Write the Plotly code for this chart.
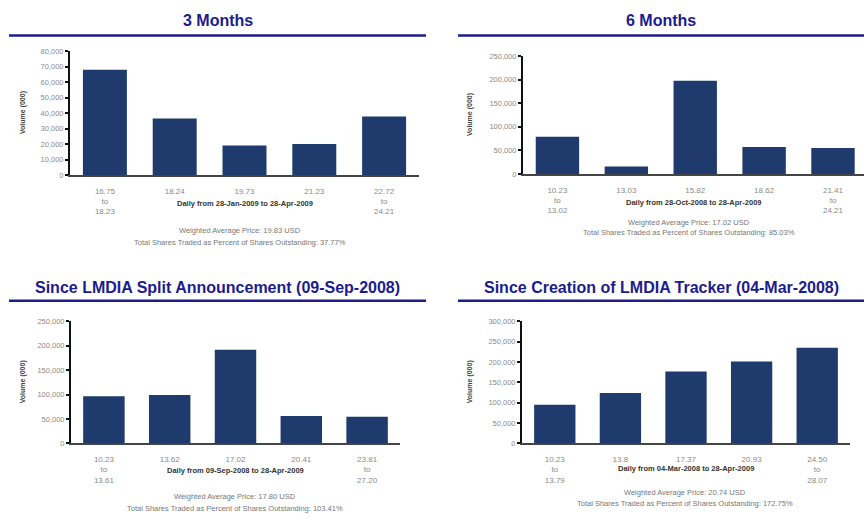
import plotly.graph_objects as go

# ---------------- data ----------------
titles = ["3 Months", "6 Months",
          "Since LMDIA Split Announcement (09-Sep-2008)",
          "Since Creation of LMDIA Tracker (04-Mar-2008)"]

labels_3m = ["16.75<br>to<br>18.23", "18.24", "19.73", "21.23", "22.72<br>to<br>24.21"]
values_3m = [68000, 36500, 19000, 20000, 37800]

labels_6m = ["10.23<br>to<br>13.02", "13.03", "15.82", "18.62", "21.41<br>to<br>24.21"]
values_6m = [79000, 16000, 197500, 57500, 55000]

labels_split = ["10.23<br>to<br>13.61", "13.62", "17.02", "20.41", "23.81<br>to<br>27.20"]
values_split = [96500, 99000, 192000, 56000, 54500]

labels_tracker = ["10.23<br>to<br>13.79", "13.8", "17.37", "20.93", "24.50<br>to<br>28.07"]
values_tracker = [95000, 123500, 176500, 201500, 235000]

x_titles = ["Daily from 28-Jan-2009 to 28-Apr-2009",
            "Daily from 28-Oct-2008 to 28-Apr-2009",
            "Daily from 09-Sep-2008 to 28-Apr-2009",
            "Daily from 04-Mar-2008 to 28-Apr-2009"]

avg_prices = ["19.83", "17.02", "17.80", "20.74"]
pct_traded = ["37.77%", "85.03%", "103.41%", "172.75%"]

y_max = [80000, 250000, 250000, 300000]
y_step = [10000, 50000, 50000, 50000]

# ---------------- layout geometry (pixels) ----------------
W, H = 864, 519
BAR = "#1f3a6c"
NAVY = "#1c1c8e"
FONT = "Liberation Sans, Arial, sans-serif"

def px(x):
    return x / W

def py(y):
    return 1 - y / H

panels = [
    dict(x0=70, x1=419, ytop=48, ybot=174, xr=[-0.5, 4.5], title_y=17, rule_y=32,
         rule=(9, 426), ytit_x=23, xt_y=203, f1=231, f2=243, fx=240),
    dict(x0=523, x1=864, ytop=53, ybot=173, xr=[-0.5, 4.45], title_y=17, rule_y=32,
         rule=(458, 864), ytit_x=470, xt_y=202, f1=222, f2=233, fx=689),
    dict(x0=71, x1=400, ytop=323, ybot=447, xr=[-0.5, 4.5], title_y=288, rule_y=302,
         rule=(9, 426), ytit_x=23, xt_y=475, f1=501, f2=513, fx=235),
    dict(x0=522, x1=850, ytop=323, ybot=447, xr=[-0.5, 4.5], title_y=288, rule_y=302,
         rule=(458, 864), ytit_x=470, xt_y=473, f1=497, f2=508, fx=685),
]

all_labels = [labels_3m, labels_6m, labels_split, labels_tracker]
all_values = [values_3m, values_6m, values_split, values_tracker]

fig = go.Figure()
annotations = []
shapes = []
layout_axes = {}

for i, (p, labs, vals) in enumerate(zip(panels, all_labels, all_values)):
    n = i + 1
    xa = "x" if n == 1 else f"x{n}"
    ya = "y" if n == 1 else f"y{n}"
    fig.add_trace(go.Bar(x=list(range(len(vals))), y=vals, xaxis=xa, yaxis=ya,
                         marker=dict(color=BAR, line=dict(width=0)),
                         width=0.63, showlegend=False, hoverinfo="y"))
    xkey = "xaxis" if n == 1 else f"xaxis{n}"
    ykey = "yaxis" if n == 1 else f"yaxis{n}"
    layout_axes[xkey] = dict(
        domain=[px(p["x0"]), px(p["x1"])], anchor=ya, range=p["xr"],
        tickmode="array", tickvals=list(range(len(labs))), ticktext=labs,
        showline=True, linecolor="#444", linewidth=2, ticks="outside",
        ticklen=7, tickcolor="rgba(0,0,0,0)", showgrid=False, zeroline=False,
        tickfont=dict(family=FONT, size=8, color="#8a8a8a"), fixedrange=True)
    layout_axes[ykey] = dict(
        domain=[py(p["ybot"]), py(p["ytop"])], anchor=xa,
        range=[0, y_max[i]], dtick=y_step[i], tick0=0, tickformat=",d",
        showline=True, linecolor="#111", linewidth=2, ticks="outside",
        ticklen=3, tickwidth=1.5, tickcolor="#111", showgrid=False, zeroline=False,
        tickfont=dict(family=FONT, size=7.5, color="#8a8a8a"), fixedrange=True)

    # panel title and rule
    annotations.append(dict(x=px((p["rule"][0] + p["rule"][1]) / 2), y=py(p["title_y"]),
                            xref="paper", yref="paper", text=f"<b>{titles[i]}</b>",
                            showarrow=False, xanchor="center", yanchor="middle",
                            font=dict(family=FONT, size=16, color=NAVY)))
    shapes.append(dict(type="line", xref="paper", yref="paper",
                       x0=px(p["rule"][0]), x1=px(p["rule"][1]),
                       y0=py(p["rule_y"]), y1=py(p["rule_y"]),
                       line=dict(color=NAVY, width=2.5)))
    # y-axis title
    annotations.append(dict(x=px(p["ytit_x"]), y=py((p["ytop"] + p["ybot"]) / 2),
                            xref="paper", yref="paper", text="<b>Volume (000)</b>",
                            textangle=-90, showarrow=False, xanchor="center",
                            yanchor="middle",
                            font=dict(family=FONT, size=7, color="#444")))
    # x-axis title
    annotations.append(dict(x=px((p["x0"] + p["x1"]) / 2), y=py(p["xt_y"]),
                            xref="paper", yref="paper", text=f"<b>{x_titles[i]}</b>",
                            showarrow=False, xanchor="center", yanchor="middle",
                            font=dict(family=FONT, size=7.5, color="#333")))
    # footers
    annotations.append(dict(x=px(p["fx"]), y=py(p["f1"]), xref="paper", yref="paper",
                            text=f"Weighted Average Price: {avg_prices[i]} USD",
                            showarrow=False, xanchor="center", yanchor="middle",
                            font=dict(family=FONT, size=7.5, color="#777")))
    annotations.append(dict(x=px(p["fx"]), y=py(p["f2"]), xref="paper", yref="paper",
                            text=f"Total Shares Traded as Percent of Shares Outstanding: {pct_traded[i]}",
                            showarrow=False, xanchor="center", yanchor="middle",
                            font=dict(family=FONT, size=7.5, color="#777")))

fig.update_layout(
    width=W, height=H, autosize=False,
    margin=dict(l=0, r=0, t=0, b=0, pad=0),
    paper_bgcolor="white", plot_bgcolor="white",
    annotations=annotations, shapes=shapes,
    font=dict(family=FONT),
    **layout_axes,
)

fig.write_html("out.html", config={"displayModeBar": False},
               post_script="document.body.style.margin='0';")
